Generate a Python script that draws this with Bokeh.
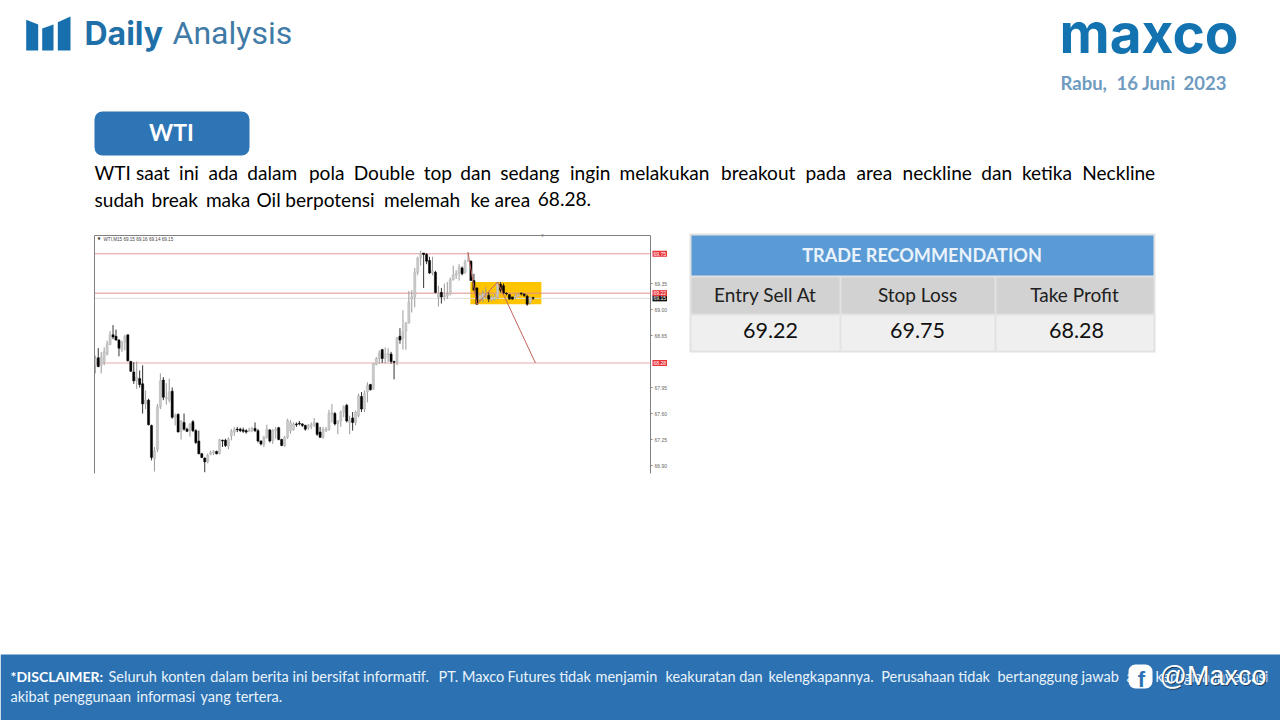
from bokeh.plotting import figure
from bokeh.embed import file_html
from bokeh.resources import INLINE
from bokeh.models import BoxAnnotation, Label, PolyAnnotation, LinearAxis, FixedTicker, Range1d, PrintfTickFormatter

# ---- chart data (WTI, M15) ----
highs = [68.38,68.48,68.43,68.49,68.58,68.71,68.79,68.73,68.60,68.58,68.66,68.66,68.31,68.29,68.30,68.18,68.25,67.91,67.80,67.45,67.15,67.73,68.14,68.09,68.01,68.07,67.95,67.60,67.60,67.51,67.60,67.41,67.47,67.51,67.39,67.37,67.07,67.01,67.06,67.10,67.11,67.10,67.26,67.25,67.26,67.28,67.39,67.42,67.42,67.41,67.41,67.39,67.41,67.42,67.48,67.39,67.24,67.30,67.45,67.39,67.39,67.42,67.42,67.26,67.30,67.53,67.51,67.48,67.48,67.50,67.47,67.45,67.46,67.48,67.54,67.48,67.42,67.42,67.42,67.65,67.73,67.62,67.51,67.64,67.71,67.73,67.57,67.62,67.64,67.87,67.89,67.91,68.02,68.00,68.28,68.36,68.45,68.47,68.49,68.48,68.43,68.31,68.63,68.75,68.99,68.83,69.25,69.26,69.56,69.71,69.79,69.76,69.76,69.71,69.71,69.52,69.32,69.29,69.35,69.37,69.43,69.59,69.53,69.61,69.58,69.67,69.77,69.66,69.48,69.30,69.21,69.26,69.30,69.23,69.19,69.21,69.37,69.37,69.35,69.23,69.21,69.17,69.21,69.22,69.23,69.21,69.20,69.17,69.17]
lows = [68.14,68.23,68.14,68.25,68.38,68.52,68.60,68.58,68.37,68.43,68.45,68.30,68.16,68.00,67.93,67.95,67.60,67.66,67.44,66.97,66.82,67.08,67.66,67.78,67.72,67.75,67.53,67.44,67.35,67.25,67.37,67.35,67.29,67.35,67.19,67.05,67.00,66.81,66.93,67.04,67.04,67.05,67.05,67.15,67.15,67.12,67.24,67.30,67.35,67.35,67.34,67.33,67.35,67.35,67.35,67.21,67.17,67.15,67.26,67.21,67.19,67.26,67.24,67.16,67.15,67.26,67.33,67.37,67.42,67.44,67.42,67.37,67.38,67.39,67.42,67.30,67.27,67.26,67.35,67.37,67.48,67.44,67.32,67.42,67.55,67.48,67.32,67.37,67.44,67.55,67.62,67.62,67.75,67.91,67.92,68.25,68.27,68.28,68.27,68.29,68.27,68.06,68.25,68.54,68.46,68.46,68.81,68.96,69.03,69.46,69.59,69.29,69.61,69.48,69.46,69.22,69.04,69.08,69.12,69.14,69.19,69.39,69.41,69.39,69.46,69.48,69.64,69.39,69.26,69.07,69.10,69.10,69.14,69.10,69.11,69.12,69.14,69.23,69.21,69.19,69.13,69.13,69.14,69.17,69.19,69.17,69.05,69.07,69.13]
opens = [68.25,68.35,68.25,68.29,68.40,68.53,68.66,68.64,68.59,68.46,68.56,68.66,68.30,68.16,68.04,68.07,68.00,67.73,67.78,67.44,66.99,67.12,67.69,68.05,67.80,67.78,67.90,67.55,67.59,67.36,67.48,67.39,67.37,67.49,67.37,67.23,67.06,67.00,66.95,67.05,67.07,67.09,67.06,67.24,67.24,67.16,67.30,67.35,67.39,67.39,67.38,67.37,67.36,67.37,67.40,67.37,67.23,67.18,67.28,67.38,67.24,67.37,67.41,67.25,67.17,67.28,67.37,67.38,67.46,67.47,67.46,67.44,67.41,67.43,67.45,67.47,67.35,67.28,67.37,67.38,67.59,67.60,67.46,67.50,67.62,67.71,67.48,67.54,67.48,67.57,67.83,67.66,67.89,67.99,67.93,68.26,68.34,68.46,68.34,68.39,68.40,68.30,68.29,68.64,68.61,68.71,68.82,69.14,69.17,69.50,69.70,69.76,69.74,69.66,69.49,69.50,69.17,69.23,69.17,69.18,69.21,69.40,69.46,69.49,69.56,69.50,69.65,69.65,69.39,69.29,69.14,69.14,69.19,69.19,69.13,69.14,69.17,69.34,69.32,69.22,69.20,69.17,69.16,69.18,69.22,69.21,69.18,69.09,69.16]
closes = [68.34,68.23,68.36,68.43,68.54,68.66,68.63,68.59,68.48,68.56,68.64,68.31,68.17,68.04,68.09,67.99,67.73,67.78,67.45,67.01,67.10,67.69,68.04,67.82,67.82,67.89,67.55,67.57,67.35,67.50,67.39,67.36,67.46,67.37,67.21,67.06,67.01,66.95,67.04,67.08,67.09,67.06,67.25,67.23,67.17,67.26,67.36,67.39,67.38,67.37,67.36,67.35,67.38,67.40,67.37,67.23,67.19,67.28,67.39,67.23,67.37,67.39,67.25,67.17,67.28,67.51,67.48,67.46,67.45,67.46,67.44,67.39,67.44,67.45,67.48,67.32,67.28,67.39,67.39,67.60,67.61,67.46,67.50,67.62,67.69,67.50,67.51,67.48,67.62,67.84,67.66,67.87,67.98,67.92,68.27,68.34,68.41,68.34,68.40,68.41,68.30,68.29,68.62,68.59,68.70,68.82,69.10,69.17,69.50,69.69,69.75,69.74,69.65,69.49,69.52,69.23,69.22,69.17,69.19,69.21,69.40,69.46,69.49,69.57,69.48,69.64,69.66,69.39,69.26,69.07,69.19,69.21,69.21,69.14,69.17,69.17,69.35,69.26,69.22,69.21,69.14,69.14,69.18,69.20,69.21,69.19,69.07,69.16,69.15]

axis_ticks = [69.35, 69.00, 68.65, 67.95, 67.60, 67.25, 66.90]
stop_loss, entry, take_profit, last_price = 69.75, 69.22, 68.28, 69.15
zone_index = [127.8, 151.8]
zone_price = [69.07, 69.37]
path_index = [127, 130, 137, 149.8]
path_price = [69.77, 69.07, 69.37, 68.28]
chart_header = "WTI,M15  69.15 69.16 69.14 69.15"

# ---- table / text content ----
table_title = "TRADE RECOMMENDATION"
table_heads = ["Entry Sell At", "Stop Loss", "Take Profit"]
table_vals = ["69.22", "69.75", "68.28"]
line1 = ["WTI","saat","ini","ada","dalam","pola","Double","top","dan","sedang","ingin","melakukan","breakout","pada","area","neckline","dan","ketika","Neckline"]
line1_x = [94,135.5,178.6,207.9,246.8,308.4,353.2,423.2,459.7,499.7,569.5,619,720.6,805,856,902,980.7,1021.4,1081.7]
line2 = ["sudah","break","maka","Oil","berpotensi","melemah","ke","area","68.28."]
line2_x = [94,151,205.4,256,284.7,383.5,470,494,537.3]
disc1 = ["Seluruh","konten","dalam berita ini bersifat informatif.","PT. Maxco","Futures tidak","menjamin","keakuratan dan","kelengkapannya.","Perusahaan tidak","bertanggung jawab","atas","kerugian","investasi"]
disc1_x = [108,160.7,209.7,438,507,595,665,768,880.7,997,1126,1155,1213]
disc2 = ["akibat","penggunaan","informasi","yang","tertera."]
disc2_x = [10,53,136,200,235]

n = len(closes)
idx = list(range(1, n + 1))

# ---- page figure: the whole slide ----
page = figure(width=1280, height=720, output_backend="svg", toolbar_location=None,
              x_range=Range1d(0, 1280), y_range=Range1d(720, 0),
              x_axis_type=None, y_axis_type=None, min_border=0,
              background_fill_color="white", border_fill_color="white", outline_line_color=None)
page.grid.visible = False
page.extra_y_ranges["price"] = Range1d(63.4685, 73.1589)

# ---- chart figure, laid over the slide ----
CL, CT = 92, 233
chart = figure(width=588, height=242, output_backend="svg", toolbar_location=None,
               x_range=Range1d(0.73, 188.7), y_range=Range1d(66.793, 69.996),
               x_axis_location="above", y_axis_location="right",
               min_border_left=2, min_border_right=30, min_border_top=2, min_border_bottom=2,
               background_fill_alpha=0, border_fill_alpha=0, outline_line_color=None,
               styles={"position": "absolute", "left": f"{CL}px", "top": f"{CT}px"})
chart.grid.visible = False

ya = chart.yaxis[0]
ya.ticker = FixedTicker(ticks=axis_ticks)
ya.minor_tick_line_color = None
ya.major_tick_out = 2
ya.major_tick_in = 0
ya.major_tick_line_color = "#888888"
ya.axis_line_color = "#808080"
ya.major_label_text_font_size = "5px"
ya.major_label_text_color = "#666666"
ya.major_label_standoff = 2
ya.formatter = PrintfTickFormatter(format="%.2f")

xa = chart.xaxis[0]
xa.ticker = FixedTicker(ticks=[])
xa.axis_line_color = "#808080"
xa.major_label_text_font_size = "0px"
left_axis = LinearAxis(ticker=FixedTicker(ticks=[]), axis_line_color="#808080", major_label_text_font_size="0px")
chart.add_layout(left_axis, "left")

chart.quad(left=[zone_index[0]], right=[zone_index[1]], bottom=[zone_price[0]], top=[zone_price[1]],
           fill_color="#FFC400", line_color=None)
for lvl, col in [(last_price, "#dedede"), (stop_loss, "#e39a9a"), (entry, "#dc8f8f"), (take_profit, "#e9a9a9")]:
    chart.line([0.73, 188.7], [lvl, lvl], line_color=col, line_width=1)

up = [i for i in range(n) if closes[i] >= opens[i]]
dn = [i for i in range(n) if closes[i] < opens[i]]
chart.segment([idx[i] for i in up], [lows[i] for i in up], [idx[i] for i in up], [highs[i] for i in up],
              line_color="#9a9a9a", line_width=1)
chart.vbar([idx[i] for i in up], 0.72, [opens[i] for i in up], [closes[i] for i in up],
           fill_color="#c9c9c9", line_color="#b5b5b5", line_width=0.5)
chart.segment([idx[i] for i in dn], [lows[i] for i in dn], [idx[i] for i in dn], [highs[i] for i in dn],
              line_color="#333333", line_width=1)
chart.vbar([idx[i] for i in dn], 0.72, [opens[i] for i in dn], [closes[i] for i in dn],
           fill_color="black", line_color="black", line_width=0.5)
chart.line(path_index, path_price, line_color="#c0635a", line_width=1)

# ---- page decoration, in canvas pixels ----
BODY = "Lato"
def box(l, t, r, b, fill, radius=0, line=None):
    page.add_layout(BoxAnnotation(left=l, right=r, top=t, bottom=b, left_units="canvas", right_units="canvas",
                                  top_units="canvas", bottom_units="canvas", fill_color=fill, fill_alpha=1,
                                  line_color=line, border_radius=radius, level="annotation"))
def txt(x, y, s, size, color="black", bold=False, font=BODY, align="left"):
    # y is the wanted baseline; Label's canvas placement sits about 0.42 em lower
    page.add_layout(Label(x=x, y=y - 0.42 * size, x_units="canvas", y_units="canvas", text=s, text_font_size=f"{size}px",
                          text_color=color, text_font=font, text_font_style="bold" if bold else "normal",
                          text_align=align, text_baseline="alphabetic", level="annotation"))
def tag(price, s, fill):
    page.add_layout(Label(x=652, y=price, x_units="canvas", y_units="data", y_range_name="price", text=s,
                          text_font_size="5px", text_color="white", text_baseline="middle",
                          background_fill_color=fill, text_font="Liberation Sans", padding=1, level="annotation"))

for xs, ys in [([25.7,37.7,37.7,25.7],[19.3,24,50,50]),
               ([41.7,53,53,41.7],[28,24,50,50]),
               ([57.3,70,70,57.3],[21.7,16,50,50])]:
    page.add_layout(PolyAnnotation(xs=xs, ys=ys, xs_units="canvas", ys_units="canvas", fill_color="#176fae",
                                   fill_alpha=1, line_color=None, level="annotation"))
txt(84, 46, "Daily", 32, "#1f70a8", True, "Inter")
txt(172, 46, "Analysis", 32, "#3f7ba6", False, "Roboto")
page.add_layout(Label(x=1059, y=32, x_units="canvas", y_units="canvas", text="maxco", text_font_size="55px",
                      text_color="#1273b0", text_font="Inter", text_font_style="bold",
                      text_baseline="middle", level="annotation"))
txt(1060, 90, "Rabu,", 18.5, "#6f9bc0", True)
txt(1116, 90, "16 Juni", 18.5, "#6f9bc0", True)
txt(1183, 90, "2023", 18.5, "#6f9bc0", True)

box(94, 111, 249, 155, "#2e75b6", 8)
txt(171, 141, "WTI", 23, "white", True, align="center")
for w, x in zip(line1, line1_x):
    txt(x, 180, w, 19.1)
for w, x in zip(line2, line2_x):
    txt(x, 207, w, 19.1)

# table
box(689, 233, 1155, 352, "#e2e2e2")
box(691, 235, 1153, 275, "#5b9bd5")
cols = [(691, 839), (841, 994), (996, 1153)]
head_cx = [765, 917, 1074]
val_cx = [770, 917, 1076]
for (a, b), h, v, hc, vc in zip(cols, table_heads, table_vals, head_cx, val_cx):
    box(a, 277, b, 313, "#d2d2d2")
    box(a, 315, b, 350, "#efefef")
    txt(hc, 302, h, 19, "#202020", align="center")
    txt(vc, 339, v, 21.5, "#111111", align="center")
txt(921.5, 262, table_title, 18.1, "#eaf3fb", True, align="center")

# chart header and price tags
txt(103, 241, chart_header, 4.6, "#444444", font="Liberation Sans")
txt(97, 240, "\u25BC", 4, "#333333", font="DejaVu Sans")
txt(542, 237, "\u25BC", 4, "#999999", font="DejaVu Sans", align="center")
tag(stop_loss, "69.75", "#e8353a")
tag(take_profit, "68.28", "#e8353a")
tag(last_price, "69.15", "#111111")
tag(entry, "69.22", "#e8353a")

# footer band
box(0, 654, 1280, 720, "#2c72b2")
txt(10, 682, "*DISCLAIMER:", 14, "white", True)
for w, x in zip(disc1, disc1_x):
    txt(x, 682, w, 14.5, "#eaf3fb")
for w, x in zip(disc2, disc2_x):
    txt(x, 702, w, 14.5, "#eaf3fb")
box(1128, 664, 1152, 688, "white", 7)
txt(1141, 688, "f", 22, "#2c72b2", True, "Liberation Sans", align="center")
txt(1160, 688, "@Maxco", 27, "#24425f", False, "Liberation Sans")
txt(1159, 687, "@Maxco", 27, "white", False, "Liberation Sans")

open("out.html", "w").write(file_html([page, chart], INLINE))
